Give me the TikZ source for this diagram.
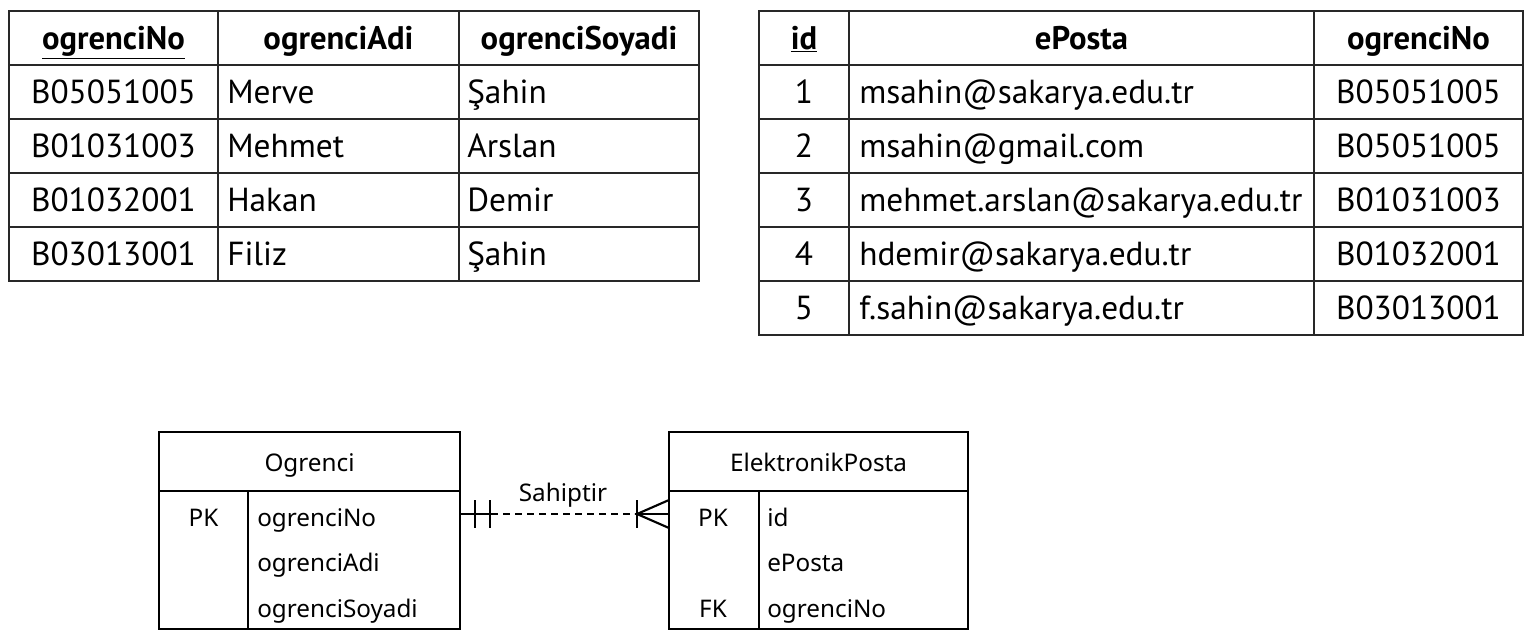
\documentclass[tikz,border=0pt]{standalone}
\usepackage{fontspec}
\setmainfont{PT Sans}
\newfontfamily\erfont{Noto Sans}
\usepackage{tikz}

\begin{document}
\begin{tikzpicture}[x=0.75pt,y=0.75pt,yscale=-1,xscale=1,
  tline/.style={line width=1.3pt, draw={rgb,255:red,40;green,40;blue,40}},
  eline/.style={line width=1.6pt},
  hd/.style={font=\fontsize{24.5}{29}\selectfont\bfseries, anchor=base, inner sep=0},
  cc/.style={font=\fontsize{25}{30}\selectfont, anchor=base, inner sep=0},
  lc/.style={font=\fontsize{25}{30}\selectfont, anchor=base west, inner sep=0},
  et/.style={font=\erfont\fontsize{18.2}{22}\selectfont, anchor=base, inner sep=0},
  etl/.style={font=\erfont\fontsize{18.2}{22}\selectfont, anchor=base west, inner sep=0}]
\path (0,0) rectangle (1532,640); %set diagram left start at 0, and has height of 640

%Shape: Rectangle [Ogrenci table]
\draw [tline]  (9,11) -- (699,11) -- (699,281) -- (9,281) -- cycle ;
%Straight Lines
\draw [tline]  (9,65) -- (699,65) ;
\draw [tline]  (9,119) -- (699,119) ;
\draw [tline]  (9,173) -- (699,173) ;
\draw [tline]  (9,227) -- (699,227) ;
\draw [tline]  (218,11) -- (218,281) ;
\draw [tline]  (459,11) -- (459,281) ;

% Text Node
\draw (113.5,49) node [hd] (hNo) {\underline{ogrenciNo}};
\draw (338.5,49) node [hd] (hAdi) {ogrenciAdi};
\draw (579,49) node [hd] (hSoy) {ogrenciSoyadi};
% Text Node
\draw (113.5,103) node [cc] (no1) {B05051005};
\draw (227,103) node [lc] (adi1) {Merve};
\draw (467,103) node [lc] (soy1) {Şahin};
% Text Node
\draw (113.5,157) node [cc] (no2) {B01031003};
\draw (227,157) node [lc] (adi2) {Mehmet};
\draw (467,157) node [lc] (soy2) {Arslan};
% Text Node
\draw (113.5,211) node [cc] (no3) {B01032001};
\draw (227,211) node [lc] (adi3) {Hakan};
\draw (467,211) node [lc] (soy3) {Demir};
% Text Node
\draw (113.5,265) node [cc] (no4) {B03013001};
\draw (227,265) node [lc] (adi4) {Filiz};
\draw (467,265) node [lc] (soy4) {Şahin};

%Shape: Rectangle [ElektronikPosta table]
\draw [tline]  (759,11) -- (1523,11) -- (1523,335) -- (759,335) -- cycle ;
%Straight Lines
\draw [tline]  (759,65) -- (1523,65) ;
\draw [tline]  (759,119) -- (1523,119) ;
\draw [tline]  (759,173) -- (1523,173) ;
\draw [tline]  (759,227) -- (1523,227) ;
\draw [tline]  (759,281) -- (1523,281) ;
\draw [tline]  (849,11) -- (849,335) ;
\draw [tline]  (1314,11) -- (1314,335) ;

% Text Node
\draw (804,49) node [hd] (hId) {\underline{id}};
\draw (1081.5,49) node [hd] (hPosta) {ePosta};
\draw (1418.5,49) node [hd] (hFk) {ogrenciNo};
% Text Node
\draw (804,103) node [cc] (id1) {1};
\draw (859,103) node [lc] (ep1) {msahin@sakarya.edu.tr};
\draw (1418.5,103) node [cc] (fk1) {B05051005};
% Text Node
\draw (804,157) node [cc] (id2) {2};
\draw (859,157) node [lc] (ep2) {msahin@gmail.com};
\draw (1418.5,157) node [cc] (fk2) {B05051005};
% Text Node
\draw (804,211) node [cc] (id3) {3};
\draw (859,211) node [lc] (ep3) {mehmet.arslan@sakarya.edu.tr};
\draw (1418.5,211) node [cc] (fk3) {B01031003};
% Text Node
\draw (804,265) node [cc] (id4) {4};
\draw (859,265) node [lc] (ep4) {hdemir@sakarya.edu.tr};
\draw (1418.5,265) node [cc] (fk4) {B01032001};
% Text Node
\draw (804,319) node [cc] (id5) {5};
\draw (859,319) node [lc] (ep5) {f.sahin@sakarya.edu.tr};
\draw (1418.5,319) node [cc] (fk5) {B03013001};

%Shape: Entity [Ogrenci]
\draw [eline]  (159,432) -- (460,432) -- (460,629) -- (159,629) -- cycle ;
\draw [eline]  (159,491) -- (460,491) ;
\draw [eline]  (248,491) -- (248,629) ;
% Text Node
\draw (309.5,471) node [et] (ogr) {Ogrenci};
\draw (203.5,526) node [et] (ogrPk) {PK};
\draw (257,526) node [etl] (ogrNo) {ogrenciNo};
\draw (257,571) node [etl] (ogrAdi) {ogrenciAdi};
\draw (257,617) node [etl] (ogrSoy) {ogrenciSoyadi};

%Shape: Entity [ElektronikPosta]
\draw [eline]  (669,432) -- (968,432) -- (968,629) -- (669,629) -- cycle ;
\draw [eline]  (669,491) -- (968,491) ;
\draw [eline]  (759,491) -- (759,629) ;
% Text Node
\draw (818.5,471) node [et] (eps) {ElektronikPosta};
\draw (713,526) node [et] (epsPk) {PK};
\draw (713,617) node [et] (epsFk) {FK};
\draw (767,526) node [etl] (epsId) {id};
\draw (767,571) node [etl] (epsPosta) {ePosta};
\draw (767,617) node [etl] (epsNo) {ogrenciNo};

%Relation: Sahiptir
\coordinate (ogrR) at (460,514);
\coordinate (oneEnd) at (491,514);
\coordinate (manyEnd) at (637,514);
\coordinate (epsL) at (669,514);
\draw [eline]  (ogrR) -- (oneEnd) ;
\draw [eline]  (475,500) -- (475,528) ;
\draw [eline]  (490,500) -- (490,528) ;
\draw [eline, dash pattern=on 5.25pt off 3.75pt]  (oneEnd) -- (manyEnd) ;
\draw [eline]  (manyEnd) -- (epsL) ;
\draw [eline]  (637,500) -- (637,528) ;
\draw [eline]  (669,500) -- (manyEnd) -- (669,528) ;
% Text Node
\draw (563,501) node [et] (rel) {Sahiptir};

\end{tikzpicture}
\end{document}
